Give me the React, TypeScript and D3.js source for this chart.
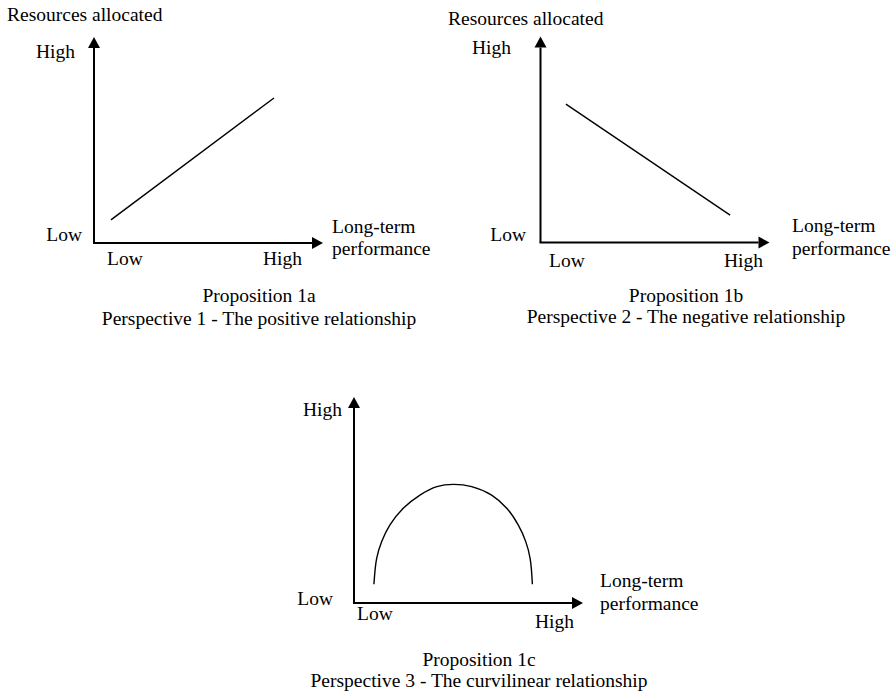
import React from 'react';
import * as d3 from 'd3';

const positiveLine: [number, number][] = [[7.4, 11.2], [78.6, 70.4]];
const negativeLine: [number, number][] = [[11.1, 67.2], [82.8, 13.3]];
const curvilinearLine: [number, number][] = [
  [8.7, 9.1], [9.9, 21.7], [12.1, 29.8], [15.7, 37.9], [21.5, 46.0], [28.8, 52.4],
  [36.2, 56.5], [43.4, 57.6], [51.4, 56.5], [60.1, 52.4], [66.7, 46.0], [71.7, 37.9],
  [75.0, 29.8], [76.9, 21.7], [77.9, 9.1],
];

const yTitle = 'Resources allocated';
const xTitle = ['Long-term', 'performance'];
const tickLow = 'Low';
const tickHigh = 'High';
const propositions = ['Proposition 1a', 'Proposition 1b', 'Proposition 1c'];
const perspectives = [
  'Perspective 1 - The positive relationship',
  'Perspective 2 - The negative relationship',
  'Perspective 3 - The curvilinear relationship',
];

const W = 896;
const H = 694;
const AXIS_W = 229;
const AXIS_H = 206;
const FONT = '"Liberation Serif", "Times New Roman", serif';

type Layout = {
  ox: number; oy: number;
  title?: [number, number];
  yHigh: [number, number]; yLow: [number, number];
  xLow: [number, number]; xHigh: [number, number];
  xTitle: [number, number, number];
  caption: [number, number, number];
};

const layouts: Layout[] = [
  {
    ox: 94, oy: 243, title: [7, 21],
    yHigh: [75, 58], yLow: [82, 241], xLow: [107, 265], xHigh: [263, 265],
    xTitle: [332, 233, 255], caption: [259, 302, 325],
  },
  {
    ox: 540.5, oy: 242.5, title: [448, 25],
    yHigh: [511, 54], yLow: [526, 241], xLow: [549, 267], xHigh: [724, 267],
    xTitle: [792, 232, 255], caption: [686, 302, 323],
  },
  {
    ox: 354, oy: 603,
    yHigh: [342, 416], yLow: [333, 605], xLow: [357, 620], xHigh: [535, 628],
    xTitle: [600, 587, 610], caption: [479, 666, 687],
  },
];

const series = [positiveLine, negativeLine, curvilinearLine];

function Panel({ idx }: { idx: number }) {
  const l = layouts[idx];
  const x = d3.scaleLinear().domain([0, 100]).range([l.ox, l.ox + AXIS_W]);
  const y = d3.scaleLinear().domain([0, 100]).range([l.oy, l.oy - AXIS_H]);
  const arrowLen = 11;
  const arrowHalf = 6;

  const line = d3.line<[number, number]>()
    .x(d => x(d[0]))
    .y(d => y(d[1]))
    .curve(idx === 2 ? d3.curveCatmullRom.alpha(0.5) : d3.curveLinear);

  const x0 = x(0), y0 = y(0), xt = x(100), yt = y(100);
  const txt = { fontFamily: FONT, fontSize: 19.5, fill: '#000' } as const;

  return (
    <g>
      {/* axes */}
      <line x1={x0} y1={y0} x2={x0} y2={yt + arrowLen} stroke="#000" strokeWidth={2} />
      <line x1={x0 - 1} y1={y0} x2={xt - arrowLen} y2={y0} stroke="#000" strokeWidth={2} />
      <polygon points={`${x0},${yt} ${x0 - arrowHalf},${yt + arrowLen} ${x0 + arrowHalf},${yt + arrowLen}`} fill="#000" />
      <polygon points={`${xt},${y0} ${xt - arrowLen},${y0 - arrowHalf} ${xt - arrowLen},${y0 + arrowHalf}`} fill="#000" />

      <path d={line(series[idx]) || ''} fill="none" stroke="#000" strokeWidth={1.4} />

      {l.title && <text x={l.title[0]} y={l.title[1]} {...txt}>{yTitle}</text>}
      <text x={l.yHigh[0]} y={l.yHigh[1]} textAnchor="end" {...txt}>{tickHigh}</text>
      <text x={l.yLow[0]} y={l.yLow[1]} textAnchor="end" {...txt}>{tickLow}</text>
      <text x={l.xLow[0]} y={l.xLow[1]} {...txt}>{tickLow}</text>
      <text x={l.xHigh[0]} y={l.xHigh[1]} {...txt}>{tickHigh}</text>
      <text x={l.xTitle[0]} y={l.xTitle[1]} {...txt}>{xTitle[0]}</text>
      <text x={l.xTitle[0]} y={l.xTitle[2]} {...txt}>{xTitle[1]}</text>
      <text x={l.caption[0]} y={l.caption[1]} textAnchor="middle" {...txt}>{propositions[idx]}</text>
      <text x={l.caption[0]} y={l.caption[2]} textAnchor="middle" {...txt}>{perspectives[idx]}</text>
    </g>
  );
}

export default function App() {
  return (
    <svg width={W} height={H} style={{ position: 'absolute', left: 0, top: 0, background: '#fff' }}>
      <rect width={W} height={H} fill="#fff" />
      {layouts.map((_, i) => <Panel key={i} idx={i} />)}
    </svg>
  );
}
